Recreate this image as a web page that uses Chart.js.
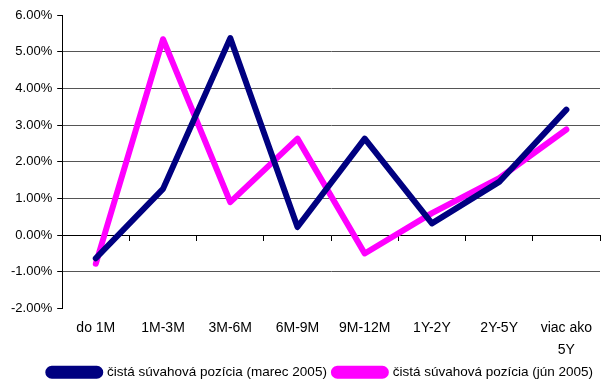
<!DOCTYPE html>
<html lang="sk">
<head>
    <meta charset="UTF-8">
    <title>Čistá súvahová pozícia</title>
    <style>
        body {
            margin: 0;
            padding: 0;
            background: #ffffff;
        }

        .chart-container {
            position: relative;
            width: 602px;
            height: 379px;
        }
    </style>
</head>
<body>
    <div class="chart-container">
        <canvas id="gapChart"></canvas>
    </div>

    <script src="https://cdn.jsdelivr.net/npm/chart.js"></script>
    <script>
        // pasma splatnosti
        const categories = ['do 1M', '1M-3M', '3M-6M', '6M-9M', '9M-12M', '1Y-2Y', '2Y-5Y', ['viac ako', '5Y']];

        // hodnoty v percentach
        const marec2005 = [-0.63, 1.26, 5.37, 0.22, 2.63, 0.32, 1.45, 3.42];
        const jun2005 = [-0.78, 5.34, 0.9, 2.63, -0.5, 0.6, 1.55, 2.88];

        const seriesNames = ['čistá súvahová pozícia (marec 2005)', 'čistá súvahová pozícia (jún 2005)'];

        const yMin = -2;
        const yMax = 6;
        const yStep = 1;

        const family = 'Liberation Sans, Arial, sans-serif';

        const ctx = document.getElementById('gapChart').getContext('2d');
        const gapChart = new Chart(ctx, {
            type: 'line',
            data: {
                labels: categories,
                datasets: [
                    {
                        label: seriesNames[0],
                        data: marec2005,
                        borderColor: '#000080',
                        backgroundColor: '#000080',
                        borderWidth: 6,
                        borderJoinStyle: 'round',
                        borderCapStyle: 'round',
                        pointRadius: 0,
                        tension: 0,
                        fill: false,
                    },
                    {
                        label: seriesNames[1],
                        data: jun2005,
                        borderColor: '#ff00ff',
                        backgroundColor: '#ff00ff',
                        borderWidth: 6,
                        borderJoinStyle: 'round',
                        borderCapStyle: 'round',
                        pointRadius: 0,
                        tension: 0,
                        fill: false,
                    }
                ]
            },
            options: {
                responsive: true,
                maintainAspectRatio: false,
                animation: false,
                layout: {
                    padding: { top: 15, right: 2, left: 6, bottom: -10 }
                },
                plugins: {
                    tooltip: { enabled: false },
                    legend: {
                        position: 'bottom',
                        align: 'end',
                        labels: {
                            color: '#000',
                            font: { family: family, size: 13.5, lineHeight: 1 },
                            boxWidth: 52,
                            boxHeight: 7,
                            padding: 7,
                            useBorderRadius: true,
                            borderRadius: 3.5,
                        }
                    }
                },
                scales: {
                    x: {
                        offset: true,
                        afterFit: scale => { scale.height = 50; },
                        grid: { display: false },
                        border: { display: false },
                        ticks: {
                            color: '#000',
                            font: { family: family, size: 14, lineHeight: 1.57 },
                            padding: 1,
                            maxRotation: 0,
                            autoSkip: false,
                        }
                    },
                    // os na nulovej urovni s ciarkami medzi kategoriami
                    x2: {
                        type: 'category',
                        labels: categories,
                        position: { y: 0 },
                        offset: true,
                        afterFit: scale => { scale.height = 0; },
                        grid: {
                            offset: true,
                            drawOnChartArea: false,
                            drawTicks: true,
                            tickLength: 5,
                            tickColor: '#000',
                        },
                        border: { display: true, color: '#000', width: 1 },
                        ticks: { display: false }
                    },
                    y: {
                        min: yMin,
                        max: yMax,
                        ticks: {
                            stepSize: yStep,
                            color: '#000',
                            font: { family: family, size: 13 },
                            padding: 5,
                            callback: value => value.toFixed(2) + '%',
                        },
                        grid: {
                            color: c => (c.tick.value === yMin || c.tick.value === yMax) ? 'rgba(0,0,0,0)' : '#555',
                            tickColor: '#000',
                            tickLength: 5,
                            lineWidth: 1,
                        },
                        border: { display: true, color: '#000', width: 1 }
                    }
                }
            }
        });
    </script>
</body>
</html>
